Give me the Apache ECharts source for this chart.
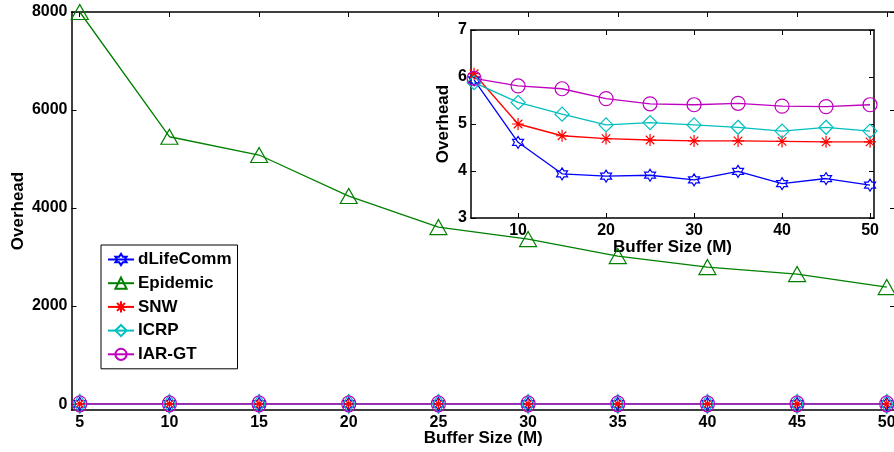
<!DOCTYPE html>
<html>
<head>
<meta charset="utf-8">
<script src="https://cdn.jsdelivr.net/npm/echarts@6/dist/echarts.min.js"></script>
<style>html,body{margin:0;padding:0;background:#fff}#c{width:894px;height:452px}</style>
</head>
<body>
<div id="c"></div>
<script>
// ---- data ----
const bufferSizes = [5, 10, 15, 20, 25, 30, 35, 40, 45, 50];
const dLifeComm = [5.94, 4.61, 3.94, 3.89, 3.91, 3.81, 3.99, 3.73, 3.84, 3.70];
const epidemic  = [8000, 5455, 5082, 4245, 3612, 3367, 3020, 2796, 2653, 2388];
const snw       = [6.07, 5.00, 4.75, 4.69, 4.66, 4.64, 4.64, 4.63, 4.62, 4.62];
const icrp      = [5.88, 5.46, 5.21, 4.98, 5.03, 4.98, 4.93, 4.85, 4.93, 4.85];
const iarGT     = [5.97, 5.81, 5.75, 5.54, 5.43, 5.41, 5.44, 5.38, 5.37, 5.41];
const mainXTicks = [5, 10, 15, 20, 25, 30, 35, 40, 45, 50];
const mainYTicks = [0, 2000, 4000, 6000, 8000];
const insetXTicks = [10, 20, 30, 40, 50];
const insetYTicks = [3, 4, 5, 6, 7];
const seriesNames = ['dLifeComm', 'Epidemic', 'SNW', 'ICRP', 'IAR-GT'];

const HEX = 'path://M0,-1000L288.7,-500L866,-500L577.4,0L866,500L288.7,500L0,1000L-288.7,500L-866,500L-577.4,0L-866,-500L-288.7,-500Z';
const AST = 'path://M0,-1000L0,1000M-1000,0L1000,0M-707,-707L707,707M-707,707L707,-707';
const FONT = 'Liberation Sans';
const pairs = arr => bufferSizes.map((x, i) => [x, arr[i]]);

const colors = ['#0000ff', '#008000', '#ff0000', '#00bfbf', '#bf00bf'];
const symbols = [HEX, 'triangle', AST, 'diamond', 'circle'];
const mainSizes = [[11, 13], [17, 15], [11, 11], [12, 19], [14, 16]];
const insetSizes = [[11, 12], [17, 15], [12, 12], [14, 14], [14, 14]];
const allData = [dLifeComm, epidemic, snw, icrp, iarGT];

function mkSeries(i, xi, yi, sizes) {
  return {
    name: seriesNames[i], type: 'line', xAxisIndex: xi, yAxisIndex: yi,
    data: pairs(allData[i]), symbol: symbols[i], symbolSize: sizes[i], symbolKeepAspect: false,
    showAllSymbol: true, clip: false, color: colors[i],
    lineStyle: { color: colors[i], width: 1.3 },
    itemStyle: { color: 'rgba(0,0,0,0)', borderColor: colors[i], borderWidth: 1.2 },
    emphasis: { disabled: true }, z: 3
  };
}

const axisLineStyle = { show: true, onZero: false, lineStyle: { color: '#000', width: 1.5 } };
const labelStyle = { color: '#000', fontFamily: FONT, fontWeight: 'bold', fontSize: 16 };
const nameStyle = { color: '#000', fontFamily: FONT, fontWeight: 'bold', fontSize: 17 };

function xAx(grid, min, max, ticks, pos, showLabel, name, gap) {
  return {
    gridIndex: grid, type: 'value', min, max, position: pos,
    axisLine: axisLineStyle, splitLine: { show: false },
    axisTick: { show: true, inside: true, length: 5, customValues: ticks, lineStyle: { color: '#000', width: 1 } },
    axisLabel: { show: showLabel, customValues: ticks, margin: 5, formatter: v => String(v), ...labelStyle },
    name: name || '', nameLocation: 'middle', nameGap: gap || 0, nameMoveOverlap: false, nameTextStyle: nameStyle
  };
}
function yAx(grid, min, max, ticks, pos, showLabel, name, gap) {
  return {
    gridIndex: grid, type: 'value', min, max, position: pos,
    axisLine: axisLineStyle, splitLine: { show: false },
    axisTick: { show: true, inside: true, length: 5, customValues: ticks, lineStyle: { color: '#000', width: 1 } },
    axisLabel: { show: showLabel, customValues: ticks, margin: 4, formatter: v => String(v), ...labelStyle },
    name: name || '', nameLocation: 'middle', nameGap: gap || 0, nameRotate: 90, nameMoveOverlap: false, nameTextStyle: nameStyle
  };
}

const series = [];
for (let i = 0; i < 5; i++) series.push(mkSeries(i, 0, 0, mainSizes));
for (let i = 0; i < 5; i++) if (i !== 1) series.push(mkSeries(i, 2, 2, insetSizes));

const option = {
  animation: false,
  backgroundColor: '#fff',
  grid: [
    { left: 71.5, top: 12, right: -1, bottom: 42, outerBoundsMode: 'none', containLabel: false },
    { left: 471, top: 30, width: 403, height: 188, show: true, backgroundColor: '#fff', borderWidth: 0, outerBoundsMode: 'none', containLabel: false }
  ],
  xAxis: [
    xAx(0, 4.54, 50.46, mainXTicks, 'bottom', true, 'Buffer Size (M)', 20),
    xAx(0, 4.54, 50.46, mainXTicks, 'top', false),
    xAx(1, 4.65, 50.45, insetXTicks, 'bottom', true, 'Buffer Size (M)', 21),
    xAx(1, 4.65, 50.45, insetXTicks, 'top', false)
  ],
  yAxis: [
    yAx(0, -120, 8000, mainYTicks, 'left', true, 'Overhead', 45),
    yAx(0, -120, 8000, mainYTicks, 'right', false),
    yAx(1, 3, 7, insetYTicks, 'left', true, 'Overhead', 19),
    yAx(1, 3, 7, insetYTicks, 'right', false)
  ],
  legend: {
    data: seriesNames, orient: 'vertical', left: 101, top: 245,
    padding: [6, 6, 6, 6], itemWidth: 26, itemHeight: 14, itemGap: 6.7,
    borderColor: '#000', borderWidth: 1, backgroundColor: '#fff', borderRadius: 0,
    selectedMode: false,
    textStyle: { color: '#000', fontFamily: FONT, fontWeight: 'bold', fontSize: 17, padding: [0, 0, 0, -1] }
  },
  series
};
const chart = echarts.init(document.getElementById('c'), null, { renderer: 'canvas' });
chart.setOption(option);
</script>
</body>
</html>
